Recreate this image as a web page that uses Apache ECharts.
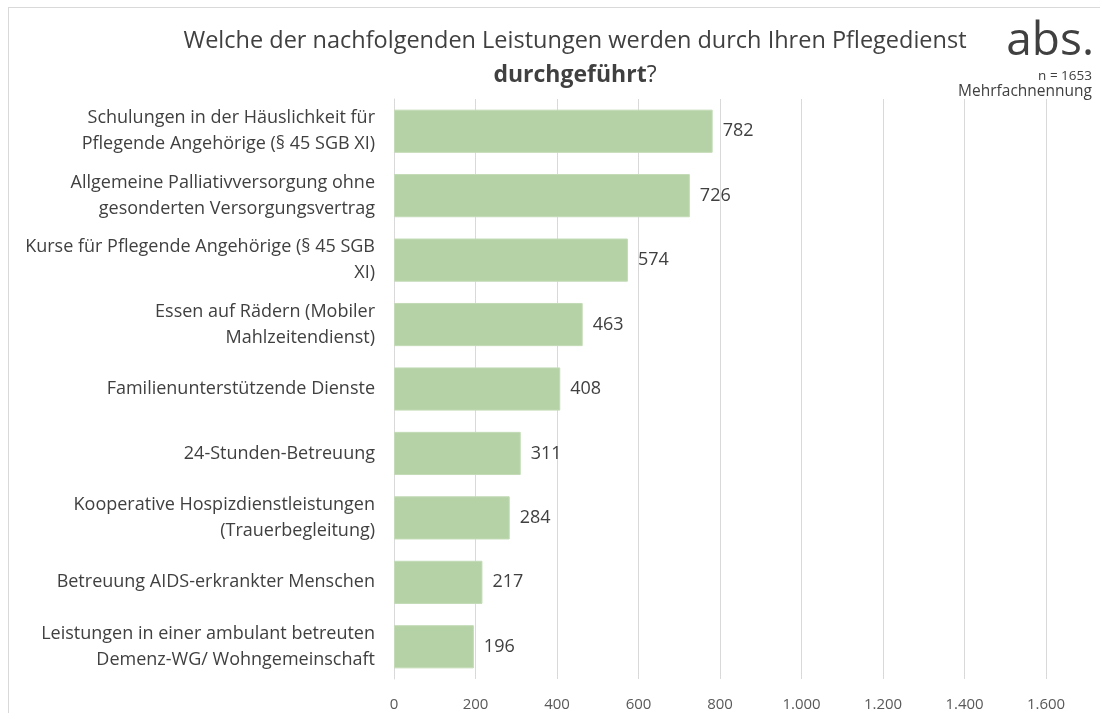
<!DOCTYPE html>
<html>
<head>
<meta charset="utf-8">
<script src="https://cdn.jsdelivr.net/npm/echarts@6/dist/echarts.min.js"></script>
<style>
  html, body { margin: 0; padding: 0; background: #fff; }
  #frame { position: absolute; left: 8px; top: 7px; width: 1100px; height: 720px; border-left: 1px solid #d9d9d9; border-top: 1px solid #d9d9d9; }
  #chart { position: absolute; left: 0; top: 0; width: 1100px; height: 713px; }
</style>
</head>
<body>
<div id="frame"></div>
<div id="chart"></div>
<script>
const categories = [
  'Schulungen in der Häuslichkeit für\nPflegende Angehörige (§ 45 SGB XI)',
  'Allgemeine Palliativversorgung ohne\ngesonderten Versorgungsvertrag',
  'Kurse für Pflegende Angehörige (§ 45 SGB\nXI)',
  'Essen auf Rädern (Mobiler\nMahlzeitendienst)',
  'Familienunterstützende Dienste',
  '24-Stunden-Betreuung',
  'Kooperative Hospizdienstleistungen\n(Trauerbegleitung)',
  'Betreuung AIDS-erkrankter Menschen',
  'Leistungen in einer ambulant betreuten\nDemenz-WG/ Wohngemeinschaft'
];
const values = [782, 726, 574, 463, 408, 311, 284, 217, 196];
const xTicks = { min: 0, max: 1600, step: 200 };

const fmt = v => String(v).replace(/\B(?=(\d{3})+(?!\d))/g, '.');

const chart = echarts.init(document.getElementById('chart'));
const font = '"Open Sans", "Noto Sans", sans-serif';
const textColor = '#404040';

const option = {
  animation: false,
  textStyle: { fontFamily: font },
  graphic: [
    {
      type: 'text',
      x: 575, y: 41,
      style: {
        text: 'Welche der nachfolgenden Leistungen werden durch Ihren Pflegedienst',
        font: '23.5px ' + font,
        fill: textColor,
        align: 'center',
        verticalAlign: 'middle'
      }
    },
    {
      type: 'text',
      x: 575, y: 75,
      style: {
        text: '{b|durchgeführt}{n|?}',
        align: 'center',
        verticalAlign: 'middle',
        rich: {
          b: { fontFamily: font, fontSize: 23, fontWeight: 'bold', fill: textColor },
          n: { fontFamily: font, fontSize: 23, fontWeight: 'normal', fill: textColor }
        }
      }
    },
    {
      type: 'text',
      x: 1094, y: 42,
      style: {
        text: 'abs.',
        font: '46px ' + font,
        fill: textColor,
        align: 'right',
        verticalAlign: 'middle'
      }
    },
    {
      type: 'text',
      x: 1092, y: 76,
      style: {
        text: 'n = 1653',
        font: '13.5px ' + font,
        fill: textColor,
        align: 'right',
        verticalAlign: 'middle'
      }
    },
    {
      type: 'text',
      x: 1092, y: 92,
      style: {
        text: 'Mehrfachnennung',
        font: '15.5px ' + font,
        fill: textColor,
        align: 'right',
        verticalAlign: 'middle'
      }
    }
  ],
  grid: { left: 394, right: 54, top: 99, bottom: 34, containLabel: false },
  xAxis: {
    type: 'value',
    min: xTicks.min,
    max: xTicks.max,
    interval: xTicks.step,
    axisLine: { show: false },
    axisTick: { show: false },
    axisLabel: { color: '#595959', fontSize: 15, margin: 18, formatter: fmt },
    splitLine: { lineStyle: { color: '#d9d9d9', width: 1 } }
  },
  yAxis: {
    type: 'category',
    inverse: true,
    data: categories,
    axisLine: { show: true, lineStyle: { color: '#d9d9d9', width: 1 } },
    axisTick: { show: false },
    axisLabel: { color: textColor, fontSize: 18, lineHeight: 26, margin: 19, align: 'right', padding: [3, 0, 0, 0] }
  },
  series: [
    {
      type: 'bar',
      data: values,
      barCategoryGap: '33%',
      itemStyle: { color: '#b5d2a6', borderColor: '#c3dbb6', borderWidth: 1 },
      label: {
        show: true,
        position: 'right',
        distance: 10,
        color: textColor,
        fontSize: 18,
        padding: [3, 0, 0, 0],
        formatter: p => fmt(p.value)
      }
    }
  ]
};

chart.setOption(option);
</script>
</body>
</html>
